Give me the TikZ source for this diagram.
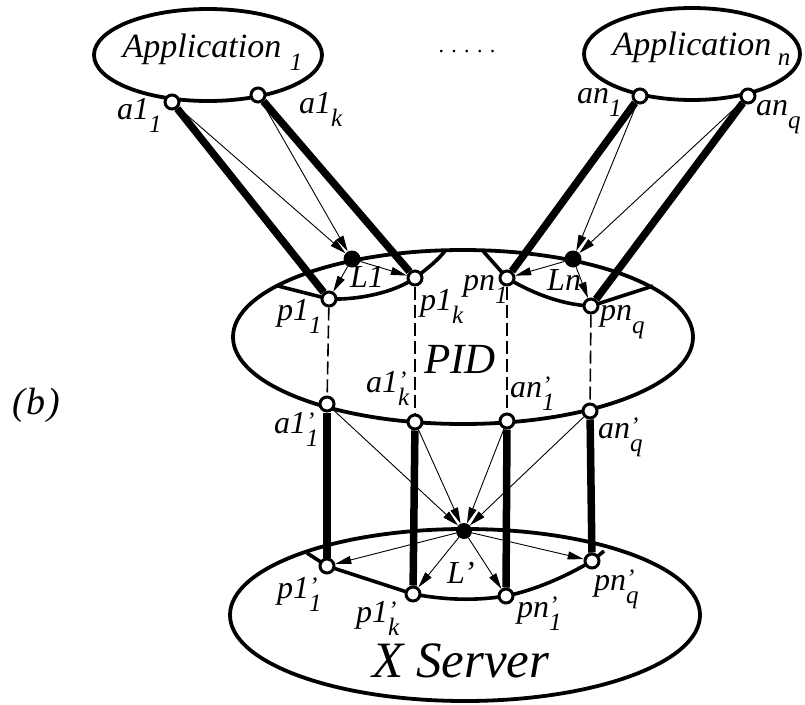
\documentclass[tikz,border=0pt]{standalone}
\usepackage{fontspec}
\setmainfont{Liberation Serif}
\usetikzlibrary{arrows.meta,shapes.geometric}
\pgfdeclarelayer{bg}
\pgfsetlayers{bg,main}
\newcommand{\subf}{\fontsize{25}{25}\selectfont}
\newcommand{\lb}[3]{#1\rlap{\raisebox{4pt}{\subf #2}}\raisebox{-13pt}{\subf #3}}
\begin{document}
\begin{tikzpicture}[x=1pt,y=-1pt,
 ell/.style={ellipse,draw,line width=3.8pt,inner sep=0pt},
 port/.style={circle,draw,line width=3pt,fill=white,minimum size=14pt,inner sep=0pt},
 dotn/.style={circle,fill=black,minimum size=17pt,inner sep=0pt},
 bar/.style={line width=7.5pt},
 arr/.style={line width=0.9pt,-{Triangle[length=16pt,width=8pt]}},
 dsh/.style={line width=1.6pt,dash pattern=on 13pt off 5pt},
 lens/.style={line width=3.6pt},
 lab/.style={font=\fontsize{32}{32}\selectfont\itshape,inner sep=0pt,anchor=base west},
]
\useasboundingbox (0,0) rectangle (805,704);

% ports and junctions
\node[port] (a11) at (172,102) {};
\node[port] (a1k) at (258,95) {};
\node[port] (an1) at (640,96) {};
\node[port] (anq) at (748,96) {};
\node[dotn] (L1) at (352,259) {};
\node[dotn] (Ln) at (573,259) {};
\node[port] (p11) at (329,299) {};
\node[port] (p1k) at (415,278) {};
\node[port] (pn1) at (507,278) {};
\node[port] (pnq) at (591,306) {};
\node[port] (b11) at (327,404) {};
\node[port] (b1k) at (415,422) {};
\node[port] (bn1) at (507,421) {};
\node[port] (bnq) at (590,411) {};
\node[dotn,minimum size=16pt] (Lp) at (464,531) {};
\node[port] (q11) at (327,566) {};
\node[port] (q1k) at (413,594) {};
\node[port] (qn1) at (506,596) {};
\node[port] (qnq) at (592,561) {};

\begin{pgfonlayer}{bg}
\node[ell,minimum width=228pt,minimum height=92pt] (app1) at (208,55) {};
\node[ell,minimum width=216pt,minimum height=92pt] (appn) at (692,54) {};
\node[ell,minimum width=460pt,minimum height=174pt] (pid) at (463,337) {};
\node[ell,minimum width=470pt,minimum height=172pt] (xs) at (465,615) {};
\draw[lens] (278,286) -- (p11.center) .. controls (360,300) and (395,292) .. (p1k.center) .. controls (428,268) and (438,260) .. (445,251);
\draw[lens] (483,251) -- (pn1.center) .. controls (535,295) and (565,305) .. (pnq.center) -- (653,286);
\draw[lens] (307,553) -- (q11.center) -- (q1k.center) .. controls (445,600) and (475,601) .. (qn1.center) .. controls (535,590) and (565,577) .. (qnq.center) -- (604,551);
\end{pgfonlayer}

% thick links
\draw[bar] (a11) -- (p11);
\draw[bar] (a1k) -- (p1k);
\draw[bar] (an1) -- (pn1);
\draw[bar] (anq) -- (pnq);
\draw[bar] (b11) -- (q11);
\draw[bar] (b1k) -- (q1k);
\draw[bar] (bn1) -- (qn1);
\draw[bar] (bnq) -- (qnq);
% dashed
\draw[dsh] (p11) -- (b11);
\draw[dsh] (p1k) -- (b1k);
\draw[dsh] (pn1) -- (bn1);
\draw[dsh] (pnq) -- (bnq);
% thin arrows
\draw[arr] (a11) -- (L1);
\draw[arr] (a1k) -- (L1);
\draw[arr] (L1) -- (p11);
\draw[arr] (L1) -- (p1k);
\draw[arr] (an1) -- (Ln);
\draw[arr] (anq) -- (Ln);
\draw[arr] (Ln) -- (pn1);
\draw[arr] (Ln) -- (pnq);
\draw[arr] (b11) -- (Lp);
\draw[arr] (b1k) -- (Lp);
\draw[arr] (bn1) -- (Lp);
\draw[arr] (bnq) -- (Lp);
\draw[arr] (Lp) -- (q11);
\draw[arr] (Lp) -- (q1k);
\draw[arr] (Lp) -- (qn1);
\draw[arr] (Lp) -- (qnq);

% labels
\node[lab] (t11) at (117,119) {\lb{a1}{}{1}};
\node[lab] (t1k) at (299,113) {\lb{a1}{}{k}};
\node[lab] (tn1) at (577,103) {\lb{an}{}{1}};
\node[lab] (tnq) at (756,115) {\lb{an}{}{q}};
\node[lab] (tL1) at (350,287) {L1};
\node[lab] (tLn) at (547,290) {Ln};
\node[lab] (tp11) at (277,320) {\lb{p1}{}{1}};
\node[lab] (tp1k) at (420,310) {\lb{p1}{}{k}};
\node[lab] (tpn1) at (463,290) {\lb{pn}{}{1}};
\node[lab] (tpnq) at (600,320) {\lb{pn}{}{q}};
\node[lab,font=\fontsize{43}{43}\selectfont\itshape] (tpid) at (424,373) {PID};
\node[lab] (tb1k) at (366,392) {\lb{a1}{’}{k}};
\node[lab] (tbn1) at (510,397) {\lb{an}{’}{1}};
\node[lab] (tb11) at (274,433) {\lb{a1}{’}{1}};
\node[lab] (tbnq) at (598,438) {\lb{an}{’}{q}};
\node[lab] (tLp) at (447,583) {L’};
\node[lab] (tq11) at (277,598) {\lb{p1}{’}{1}};
\node[lab] (tq1k) at (356,622) {\lb{p1}{’}{k}};
\node[lab] (tqn1) at (517,617) {\lb{pn}{’}{1}};
\node[lab] (tqnq) at (594,590) {\lb{pn}{’}{q}};
\node[lab,font=\fontsize{51}{51}\selectfont\itshape] (txs) at (372,677) {X Server};
\node[lab,font=\fontsize{38}{38}\selectfont\itshape] (tb) at (12,414) {(\kern2pt b\kern2pt)};
\node[lab,anchor=base,font=\fontsize{34}{34}\selectfont\itshape] (tapp1) at (202,57) {Application};
\node[lab,anchor=base,font=\fontsize{25}{25}\selectfont\itshape] (tapp1s) at (296,70) {1};
\node[lab,anchor=base,font=\fontsize{34}{34}\selectfont\itshape] (tappn) at (692,55) {Application};
\node[lab,anchor=base,font=\fontsize{25}{25}\selectfont\itshape] (tappns) at (784,65) {n};
\node[lab,anchor=base,font=\fontsize{22}{22}\selectfont] (dots) at (467,52) {. . . . .};
\end{tikzpicture}
\end{document}
